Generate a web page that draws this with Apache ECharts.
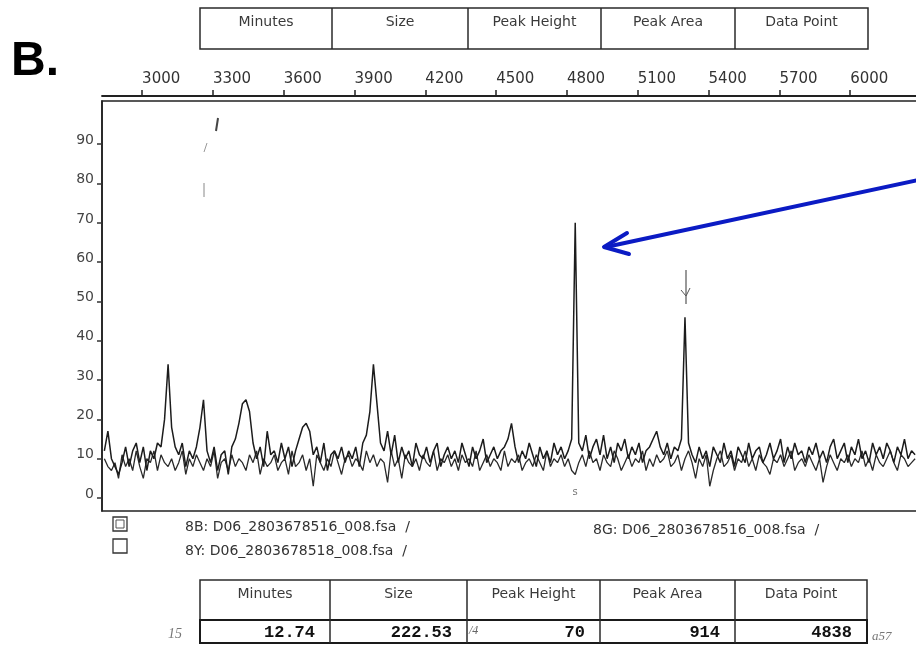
<!DOCTYPE html>
<html>
<head>
<meta charset="utf-8">
<script src="https://cdn.jsdelivr.net/npm/echarts@6/dist/echarts.min.js"></script>
<style>
html,body{margin:0;padding:0;background:#fff;}
#chart{width:916px;height:649px;}
</style>
</head>
<body>
<div id="chart"></div>
<script>
// ---- data ----
const dataPointStart = 2840;
const dataPointStep = 15;
const xTickValues = [3000, 3300, 3600, 3900, 4200, 4500, 4800, 5100, 5400, 5700, 6000];
const yTickValues = [0, 10, 20, 30, 40, 50, 60, 70, 80, 90];
const yTickLabels = ['0', '10', '20', '30', '40', '50', '60', '70', '80', '90'];

// 8B trace (with peaks)
const trace8B = [
  12, 17, 10, 8, 6, 9, 13, 8, 12, 14,
  9, 13, 7, 12, 10, 14, 13, 20, 34, 18,
  13, 11, 14, 8, 12, 10, 13, 18, 25, 12,
  9, 13, 7, 11, 12, 6, 13, 15, 19, 24,
  25, 22, 14, 10, 13, 8, 17, 11, 12, 9,
  14, 10, 13, 8, 12, 15, 18, 19, 17, 11,
  13, 9, 14, 7, 11, 12, 10, 13, 9, 12,
  10, 13, 8, 14, 16, 22, 34, 24, 14, 12,
  17, 11, 16, 9, 13, 10, 12, 8, 14, 11,
  10, 13, 9, 12, 14, 8, 11, 13, 10, 12,
  9, 14, 11, 8, 13, 10, 12, 15, 9, 11,
  13, 10, 12, 13, 15, 19, 13, 9, 12, 10,
  14, 11, 8, 13, 10, 12, 9, 14, 11, 13,
  10, 12, 15, 70, 14, 12, 16, 10, 13, 15,
  11, 16, 10, 13, 9, 14, 12, 15, 10, 13,
  11, 14, 9, 12, 13, 15, 17, 13, 11, 14,
  10, 13, 12, 15, 46, 14, 11, 9, 13, 10,
  12, 8, 13, 11, 9, 14, 10, 12, 8, 13,
  11, 9, 14, 10, 12, 13, 9, 11, 14, 10,
  12, 15, 9, 13, 10, 14, 11, 12, 9, 13,
  11, 14, 10, 12, 9, 13, 15, 10, 12, 14,
  9, 13, 11, 15, 10, 12, 9, 14, 11, 13,
  10, 14, 12, 9, 13, 11, 15, 10, 12, 11
];

// 8Y trace (noise)
const trace8Y = [
  10, 8, 7, 9, 5, 11, 8, 10, 7, 12,
  8, 5, 10, 9, 12, 7, 11, 9, 8, 10,
  7, 9, 12, 6, 10, 8, 11, 9, 7, 10,
  8, 12, 5, 9, 10, 7, 11, 8, 10, 9,
  7, 11, 9, 12, 6, 10, 8, 9, 11, 7,
  9, 10, 6, 12, 8, 9, 11, 7, 10, 3,
  11, 9, 7, 10, 8, 12, 9, 6, 10, 11,
  8, 10, 9, 7, 12, 9, 11, 8, 10, 9,
  4, 12, 8, 10, 5, 11, 9, 8, 10, 7,
  11, 9, 8, 12, 7, 10, 9, 11, 8, 10,
  7, 11, 9, 10, 8, 12, 7, 9, 11, 8,
  10, 9, 7, 12, 8, 10, 9, 11, 7, 9,
  10, 8, 11, 9, 7, 12, 8, 10, 9, 11,
  8, 10, 7, 6, 9, 11, 8, 12, 9, 10,
  7, 11, 9, 8, 12, 10, 7, 9, 11, 8,
  10, 9, 12, 7, 10, 8, 11, 9, 10, 12,
  8, 9, 11, 7, 10, 12, 9, 5, 10, 8,
  11, 3, 7, 10, 12, 8, 9, 11, 7, 10,
  9, 12, 8, 10, 7, 11, 9, 8, 6, 10,
  9, 11, 8, 10, 12, 7, 9, 10, 8, 11,
  9, 7, 10, 4, 8, 11, 9, 7, 10, 9,
  11, 8, 10, 9, 12, 8, 10, 7, 11, 9,
  8, 10, 12, 9, 7, 11, 10, 8, 9, 10
];

const legendLabels = ['8B: D06_2803678516_008.fsa  /', '8Y: D06_2803678518_008.fsa  /', '8G: D06_2803678516_008.fsa  /'];
const tableHeaders = ['Minutes', 'Size', 'Peak Height', 'Peak Area', 'Data Point'];
const tableValues = ['12.74', '222.53', '70', '914', '4838'];

// ---- build ----
function toPairs(arr) {
  return arr.map((v, k) => [dataPointStart + dataPointStep * k, v]);
}

const chart = echarts.init(document.getElementById('chart'), null, {renderer: 'canvas'});
const ink = '#1c1c1c';
const sans = 'DejaVu Sans';

const colX = [200, 332, 468, 601, 735, 868];
const graphics = [];

// "B." panel label
graphics.push({type: 'text', left: 11, top: 38, style: {text: 'B.', font: 'bold 48px "Liberation Sans"', fill: '#000'}});

// top header table
graphics.push({type: 'rect', shape: {x: 200, y: 8, width: 668, height: 41}, style: {fill: 'none', stroke: '#2a2a2a', lineWidth: 1.5}});
for (let i = 1; i < 5; i++) {
  graphics.push({type: 'line', shape: {x1: colX[i], y1: 8, x2: colX[i], y2: 49}, style: {stroke: '#2a2a2a', lineWidth: 1.5}});
}
tableHeaders.forEach((t, i) => {
  graphics.push({type: 'text', x: (colX[i] + colX[i + 1]) / 2, y: 22,
    style: {text: t, font: '14px "' + sans + '"', fill: '#3a3a3a', align: 'center', verticalAlign: 'middle'}});
});

// legend
graphics.push({type: 'rect', shape: {x: 113, y: 517, width: 14, height: 14}, style: {fill: 'none', stroke: '#333', lineWidth: 1.3}});
graphics.push({type: 'rect', shape: {x: 116, y: 520, width: 8, height: 8}, style: {fill: 'none', stroke: '#555', lineWidth: 1}});
graphics.push({type: 'rect', shape: {x: 113, y: 539, width: 14, height: 14}, style: {fill: 'none', stroke: '#333', lineWidth: 1.3}});
graphics.push({type: 'text', x: 185, y: 527, style: {text: legendLabels[0], font: '14px "' + sans + '"', fill: '#333', verticalAlign: 'middle'}});
graphics.push({type: 'text', x: 185, y: 551, style: {text: legendLabels[1], font: '14px "' + sans + '"', fill: '#333', verticalAlign: 'middle'}});
graphics.push({type: 'text', x: 593, y: 530, style: {text: legendLabels[2], font: '14px "' + sans + '"', fill: '#333', verticalAlign: 'middle'}});

// bottom table
const bColX = [200, 330, 467, 600, 735, 867];
graphics.push({type: 'rect', shape: {x: 200, y: 580, width: 667, height: 40}, style: {fill: 'none', stroke: '#2a2a2a', lineWidth: 1.5}});
graphics.push({type: 'rect', shape: {x: 200, y: 620, width: 667, height: 23}, style: {fill: 'none', stroke: '#1a1a1a', lineWidth: 2}});
for (let i = 1; i < 5; i++) {
  graphics.push({type: 'line', shape: {x1: bColX[i], y1: 580, x2: bColX[i], y2: 643}, style: {stroke: '#2a2a2a', lineWidth: 1.5}});
}
tableHeaders.forEach((t, i) => {
  graphics.push({type: 'text', x: (bColX[i] + bColX[i + 1]) / 2, y: 594,
    style: {text: t, font: '14px "' + sans + '"', fill: '#3a3a3a', align: 'center', verticalAlign: 'middle'}});
});
tableValues.forEach((t, i) => {
  graphics.push({type: 'text', x: bColX[i + 1] - 15, y: 633,
    style: {text: t, font: 'bold 17px "Liberation Mono"', fill: '#111', align: 'right', verticalAlign: 'middle'}});
});
// handwritten marks
graphics.push({type: 'text', x: 168, y: 634, style: {text: '15', font: 'italic 14px "Liberation Serif"', fill: '#777', verticalAlign: 'middle'}});
graphics.push({type: 'text', x: 469, y: 631, style: {text: '/4', font: 'italic 12px "Liberation Serif"', fill: '#666', verticalAlign: 'middle'}});
graphics.push({type: 'text', x: 872, y: 637, style: {text: 'a57', font: 'italic 13px "Liberation Serif"', fill: '#777', verticalAlign: 'middle'}});

// pen marks in plot
graphics.push({type: 'line', shape: {x1: 218, y1: 118, x2: 216, y2: 131}, style: {stroke: '#444', lineWidth: 2}});
graphics.push({type: 'line', shape: {x1: 207, y1: 143, x2: 204, y2: 152}, style: {stroke: '#999', lineWidth: 1}});
graphics.push({type: 'line', shape: {x1: 204, y1: 183, x2: 204, y2: 197}, style: {stroke: '#888', lineWidth: 1}});
graphics.push({type: 'line', shape: {x1: 686, y1: 270, x2: 686, y2: 304}, style: {stroke: '#555', lineWidth: 1.2}});
graphics.push({type: 'polyline', shape: {points: [[681, 290], [686, 296], [690, 288]]}, style: {stroke: '#555', fill: 'none', lineWidth: 1}});
graphics.push({type: 'text', x: 575, y: 492, style: {text: 's', font: '10px "' + sans + '"', fill: '#777', align: 'center', verticalAlign: 'middle'}});

// blue arrow
graphics.push({type: 'line', shape: {x1: 918, y1: 180, x2: 606, y2: 247}, style: {stroke: '#0b1bc4', lineWidth: 4, lineCap: 'round'}, z: 100});
graphics.push({type: 'polyline', shape: {points: [[627, 233], [604, 247], [629, 254]]}, style: {stroke: '#0b1bc4', fill: 'none', lineWidth: 4, lineCap: 'round', lineJoin: 'round'}, z: 100});

const option = {
  animation: false,
  backgroundColor: '#fff',
  grid: {left: 102, top: 101, width: 819, bottom: 138, show: true, borderColor: '#222', borderWidth: 1.6,
    containLabel: false, outerBoundsMode: 'none'},
  xAxis: {
    type: 'value', position: 'top', offset: 5, min: 2830, max: 6300,
    axisLine: {show: true, onZero: false, lineStyle: {color: '#222', width: 1.8}},
    axisTick: {show: true, length: 6, customValues: xTickValues, lineStyle: {color: '#222', width: 1.5}},
    axisLabel: {customValues: xTickValues, align: 'left', margin: 9, color: '#333', fontFamily: sans, fontSize: 15,
      formatter: v => String(Math.round(v))},
    splitLine: {show: false}
  },
  yAxis: {
    type: 'value', min: -3.3, max: 101,
    axisLine: {show: true, lineStyle: {color: '#222', width: 1.6}},
    axisTick: {show: true, length: 5, customValues: yTickValues, lineStyle: {color: '#333', width: 1.5}},
    axisLabel: {customValues: yTickValues, margin: 8, color: '#444', fontFamily: sans, fontSize: 14, verticalAlign: 'bottom', lineHeight: 8,
      formatter: v => yTickLabels[yTickValues.indexOf(Math.round(v))] || ''},
    splitLine: {show: false}
  },
  series: [
    {name: '8Y', type: 'line', data: toPairs(trace8Y), showSymbol: false, symbol: 'none',
      lineStyle: {color: '#2a2a2a', width: 1.3}, z: 2},
    {name: '8B', type: 'line', data: toPairs(trace8B), showSymbol: false, symbol: 'none',
      lineStyle: {color: ink, width: 1.5}, z: 3}
  ],
  graphic: graphics
};
chart.setOption(option);
</script>
</body>
</html>
